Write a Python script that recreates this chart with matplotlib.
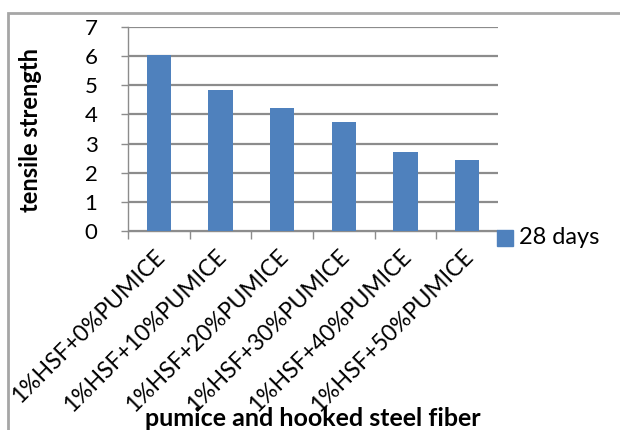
import matplotlib
matplotlib.use('Agg')
import matplotlib.pyplot as plt
from matplotlib.patches import Rectangle
from matplotlib.transforms import ScaledTranslation
import numpy as np

# data
categories = ['1%HSF+0%PUMICE', '1%HSF+10%PUMICE', '1%HSF+20%PUMICE',
              '1%HSF+30%PUMICE', '1%HSF+40%PUMICE', '1%HSF+50%PUMICE']
tensile_28 = [6.05, 4.85, 4.23, 3.73, 2.72, 2.43]
y_ticks = [0, 1, 2, 3, 4, 5, 6, 7]

plt.rcParams['font.family'] = ['Lato', 'DejaVu Sans']

fig = plt.figure(figsize=(6.2, 4.3), dpi=100, facecolor='white')
ax = fig.add_axes([128 / 620, 1 - 230.7 / 430, 370 / 620, 203.4 / 430])

x = np.arange(len(categories))
ax.bar(x, tensile_28, width=0.39, color='#4F81BD', zorder=3, label='28 days')

ax.set_xlim(-0.5, len(categories) - 0.5)
ax.set_ylim(0, 7)
ax.set_yticks(y_ticks)
ax.set_yticklabels([str(t) for t in y_ticks], fontsize=16)
ax.grid(axis='y', color='#8c8c8c', linewidth=1.6, zorder=0)
ax.tick_params(axis='y', length=5, width=1, color='#8c8c8c', pad=17)

# category ticks sit on boundaries, labels in the centre
ax.set_xticks(np.arange(len(categories) + 1) - 0.5)
ax.set_xticklabels([])
ax.tick_params(axis='x', length=6, width=1, color='#8c8c8c')
ax.set_xticks(x, minor=True)
ax.set_xticklabels(categories, minor=True, rotation=45, ha='right',
                   rotation_mode='anchor', fontsize=16.5)
ax.tick_params(axis='x', which='minor', length=0, pad=11)
shift = ScaledTranslation(-5 / 100, 0, fig.dpi_scale_trans)
for lbl in ax.get_xticklabels(minor=True):
    lbl.set_transform(lbl.get_transform() + shift)

for side in ['top', 'right']:
    ax.spines[side].set_visible(False)
ax.spines['left'].set_color('#8c8c8c')
ax.spines['bottom'].set_color('#8c8c8c')
ax.spines['left'].set_linewidth(1)
ax.spines['bottom'].set_linewidth(1)

fig.text(31 / 620, 1 - 130 / 430, 'tensile strength', rotation=90,
         ha='center', va='center', fontsize=17, fontweight='bold')
fig.text(313 / 620, 1 - 419 / 430, 'pumice and hooked steel fiber',
         ha='center', va='center', fontsize=18, fontweight='bold')

# legend
fig.patches.append(Rectangle((497 / 620, 1 - 246 / 430), 16 / 620, 15.5 / 430,
                             transform=fig.transFigure, color='#4F81BD'))
fig.text(519 / 620, 1 - 238 / 430, '28 days', ha='left', va='center', fontsize=17)

# chart border
fig.patches.append(Rectangle((7.5 / 620, -0.1), 1.2, 1 - 12.5 / 430 + 0.1,
                             transform=fig.transFigure, fill=False,
                             edgecolor='#a6a6a6', linewidth=2))

fig.savefig('out.png', dpi=100)
